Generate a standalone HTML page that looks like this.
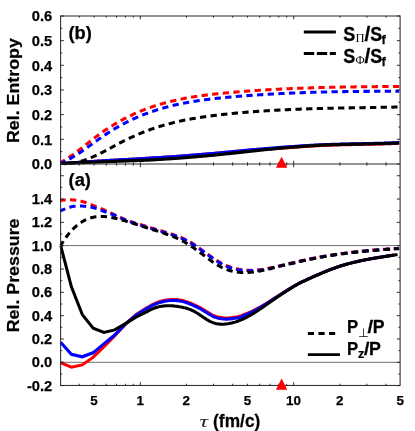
<!DOCTYPE html>
<html><head><meta charset="utf-8"><title>plot</title>
<style>
html,body{margin:0;padding:0;background:#fff;}
body{width:415px;height:431px;overflow:hidden;font-family:"Liberation Sans",sans-serif;}
svg{display:block;will-change:transform;filter:grayscale(0);}
</style></head><body>
<svg width="415" height="431" viewBox="0 0 415 431">
<rect width="415" height="431" fill="#fff"/>
<defs><clipPath id="ct"><rect x="59.4" y="16.0" width="340.7" height="150.14999999999998"/></clipPath><clipPath id="cb"><rect x="59.4" y="163.95" width="340.7" height="223.5"/></clipPath></defs>
<line x1="60.6" x2="400.1" y1="245.6" y2="245.6" stroke="#3c3c3c" stroke-width="0.75"/>
<line x1="60.6" x2="400.1" y1="362.3" y2="362.3" stroke="#3c3c3c" stroke-width="0.75"/>
<g clip-path="url(#ct)">
<path d="M60.50,163.54 L61.63,163.47 L62.77,163.40 L63.90,163.32 L65.03,163.25 L66.16,163.18 L67.30,163.10 L68.43,163.03 L69.56,162.95 L70.69,162.88 L71.83,162.81 L72.96,162.73 L74.09,162.66 L75.23,162.58 L76.36,162.51 L77.49,162.44 L78.62,162.36 L79.76,162.29 L80.89,162.21 L82.02,162.14 L83.16,162.07 L84.29,161.99 L85.42,161.92 L86.55,161.85 L87.69,161.77 L88.82,161.70 L89.95,161.63 L91.08,161.55 L92.22,161.48 L93.35,161.41 L94.48,161.34 L95.62,161.26 L96.75,161.19 L97.88,161.12 L99.01,161.05 L100.15,160.98 L101.28,160.91 L102.41,160.84 L103.55,160.77 L104.68,160.70 L105.81,160.64 L106.94,160.57 L108.08,160.51 L109.21,160.45 L110.34,160.38 L111.47,160.32 L112.61,160.25 L113.74,160.19 L114.87,160.13 L116.01,160.06 L117.14,160.00 L118.27,159.94 L119.40,159.87 L120.54,159.81 L121.67,159.75 L122.80,159.69 L123.94,159.63 L125.07,159.57 L126.20,159.50 L127.33,159.44 L128.47,159.38 L129.60,159.31 L130.73,159.25 L131.86,159.19 L133.00,159.12 L134.13,159.06 L135.26,158.99 L136.40,158.92 L137.53,158.86 L138.66,158.79 L139.79,158.72 L140.93,158.65 L142.06,158.58 L143.19,158.51 L144.33,158.44 L145.46,158.37 L146.59,158.30 L147.72,158.23 L148.86,158.15 L149.99,158.08 L151.12,158.01 L152.25,157.95 L153.39,157.89 L154.52,157.82 L155.65,157.76 L156.79,157.69 L157.92,157.62 L159.05,157.55 L160.18,157.48 L161.32,157.41 L162.45,157.34 L163.58,157.27 L164.72,157.20 L165.85,157.12 L166.98,157.05 L168.11,156.97 L169.25,156.90 L170.38,156.82 L171.51,156.74 L172.64,156.66 L173.78,156.58 L174.91,156.50 L176.04,156.42 L177.18,156.34 L178.31,156.25 L179.44,156.17 L180.57,156.08 L181.71,156.00 L182.84,155.91 L183.97,155.82 L185.11,155.73 L186.24,155.64 L187.37,155.55 L188.50,155.46 L189.64,155.37 L190.77,155.28 L191.90,155.19 L193.03,155.09 L194.17,155.00 L195.30,154.90 L196.43,154.81 L197.57,154.71 L198.70,154.61 L199.83,154.51 L200.96,154.43 L202.10,154.35 L203.23,154.26 L204.36,154.18 L205.50,154.09 L206.63,154.01 L207.76,153.92 L208.89,153.84 L210.03,153.75 L211.16,153.66 L212.29,153.57 L213.42,153.48 L214.56,153.39 L215.69,153.29 L216.82,153.19 L217.96,153.09 L219.09,152.99 L220.22,152.89 L221.35,152.79 L222.49,152.69 L223.62,152.59 L224.75,152.48 L225.89,152.38 L227.02,152.28 L228.15,152.17 L229.28,152.07 L230.42,151.96 L231.55,151.86 L232.68,151.75 L233.81,151.64 L234.95,151.54 L236.08,151.43 L237.21,151.32 L238.35,151.21 L239.48,151.11 L240.61,151.00 L241.74,150.89 L242.88,150.78 L244.01,150.67 L245.14,150.57 L246.28,150.46 L247.41,150.35 L248.54,150.26 L249.67,150.18 L250.81,150.11 L251.94,150.04 L253.07,149.97 L254.20,149.89 L255.34,149.82 L256.47,149.75 L257.60,149.68 L258.74,149.60 L259.87,149.53 L261.00,149.47 L262.13,149.40 L263.27,149.34 L264.40,149.27 L265.53,149.21 L266.67,149.15 L267.80,149.08 L268.93,149.02 L270.06,148.96 L271.20,148.87 L272.33,148.79 L273.46,148.70 L274.59,148.62 L275.73,148.54 L276.86,148.45 L277.99,148.37 L279.13,148.29 L280.26,148.21 L281.39,148.13 L282.52,148.05 L283.66,147.98 L284.79,147.90 L285.92,147.83 L287.06,147.75 L288.19,147.68 L289.32,147.61 L290.45,147.54 L291.59,147.47 L292.72,147.40 L293.85,147.33 L294.98,147.26 L296.12,147.20 L297.25,147.11 L298.38,147.02 L299.52,146.93 L300.65,146.85 L301.78,146.76 L302.91,146.68 L304.05,146.60 L305.18,146.52 L306.31,146.44 L307.45,146.36 L308.58,146.29 L309.71,146.21 L310.84,146.14 L311.98,146.07 L313.11,146.00 L314.24,145.94 L315.37,145.87 L316.51,145.81 L317.64,145.75 L318.77,145.69 L319.91,145.63 L321.04,145.58 L322.17,145.52 L323.30,145.47 L324.44,145.42 L325.57,145.37 L326.70,145.33 L327.84,145.28 L328.97,145.24 L330.10,145.20 L331.23,145.16 L332.37,145.12 L333.50,145.08 L334.63,145.04 L335.76,145.01 L336.90,144.97 L338.03,144.94 L339.16,144.91 L340.30,144.88 L341.43,144.85 L342.56,144.82 L343.69,144.79 L344.83,144.76 L345.96,144.73 L347.09,144.71 L348.23,144.68 L349.36,144.66 L350.49,144.63 L351.62,144.61 L352.76,144.59 L353.89,144.56 L355.02,144.54 L356.15,144.52 L357.29,144.49 L358.42,144.47 L359.55,144.45 L360.69,144.43 L361.82,144.40 L362.95,144.38 L364.08,144.36 L365.22,144.34 L366.35,144.31 L367.48,144.29 L368.62,144.27 L369.75,144.24 L370.88,144.22 L372.01,144.19 L373.15,144.17 L374.28,144.14 L375.41,144.12 L376.54,144.09 L377.68,144.06 L378.81,144.03 L379.94,144.00 L381.08,143.97 L382.21,143.94 L383.34,143.90 L384.47,143.87 L385.61,143.83 L386.74,143.80 L387.87,143.76 L389.01,143.72 L390.14,143.68 L391.27,143.64 L392.40,143.59 L393.54,143.55 L394.67,143.50 L395.80,143.45 L396.93,143.40 L398.07,143.35 L399.20,143.29" fill="none" stroke="#ff0000" stroke-width="3.05" stroke-linejoin="miter"/>
<path d="M60.50,163.54 L61.63,163.47 L62.77,163.40 L63.90,163.32 L65.03,163.25 L66.16,163.18 L67.30,163.10 L68.43,163.03 L69.56,162.95 L70.69,162.88 L71.83,162.81 L72.96,162.73 L74.09,162.66 L75.23,162.58 L76.36,162.51 L77.49,162.44 L78.62,162.36 L79.76,162.29 L80.89,162.21 L82.02,162.14 L83.16,162.07 L84.29,161.99 L85.42,161.92 L86.55,161.85 L87.69,161.77 L88.82,161.70 L89.95,161.63 L91.08,161.55 L92.22,161.48 L93.35,161.41 L94.48,161.34 L95.62,161.26 L96.75,161.19 L97.88,161.12 L99.01,161.05 L100.15,160.98 L101.28,160.91 L102.41,160.84 L103.55,160.77 L104.68,160.70 L105.81,160.64 L106.94,160.57 L108.08,160.51 L109.21,160.45 L110.34,160.38 L111.47,160.32 L112.61,160.25 L113.74,160.19 L114.87,160.13 L116.01,160.06 L117.14,160.00 L118.27,159.94 L119.40,159.87 L120.54,159.81 L121.67,159.75 L122.80,159.69 L123.94,159.63 L125.07,159.57 L126.20,159.50 L127.33,159.44 L128.47,159.38 L129.60,159.31 L130.73,159.25 L131.86,159.19 L133.00,159.12 L134.13,159.06 L135.26,158.99 L136.40,158.92 L137.53,158.86 L138.66,158.79 L139.79,158.72 L140.93,158.65 L142.06,158.58 L143.19,158.51 L144.33,158.44 L145.46,158.37 L146.59,158.30 L147.72,158.23 L148.86,158.15 L149.99,158.08 L151.12,158.01 L152.25,157.95 L153.39,157.89 L154.52,157.82 L155.65,157.76 L156.79,157.69 L157.92,157.62 L159.05,157.55 L160.18,157.48 L161.32,157.41 L162.45,157.34 L163.58,157.27 L164.72,157.20 L165.85,157.12 L166.98,157.05 L168.11,156.97 L169.25,156.90 L170.38,156.82 L171.51,156.74 L172.64,156.66 L173.78,156.58 L174.91,156.50 L176.04,156.42 L177.18,156.34 L178.31,156.25 L179.44,156.17 L180.57,156.08 L181.71,156.00 L182.84,155.91 L183.97,155.82 L185.11,155.73 L186.24,155.64 L187.37,155.55 L188.50,155.46 L189.64,155.37 L190.77,155.28 L191.90,155.19 L193.03,155.09 L194.17,155.00 L195.30,154.90 L196.43,154.81 L197.57,154.71 L198.70,154.61 L199.83,154.51 L200.96,154.43 L202.10,154.34 L203.23,154.25 L204.36,154.16 L205.50,154.07 L206.63,153.98 L207.76,153.89 L208.89,153.80 L210.03,153.71 L211.16,153.61 L212.29,153.52 L213.42,153.42 L214.56,153.33 L215.69,153.22 L216.82,153.12 L217.96,153.02 L219.09,152.91 L220.22,152.81 L221.35,152.70 L222.49,152.59 L223.62,152.49 L224.75,152.38 L225.89,152.27 L227.02,152.16 L228.15,152.05 L229.28,151.94 L230.42,151.83 L231.55,151.72 L232.68,151.61 L233.81,151.50 L234.95,151.39 L236.08,151.28 L237.21,151.17 L238.35,151.05 L239.48,150.94 L240.61,150.83 L241.74,150.72 L242.88,150.60 L244.01,150.49 L245.14,150.38 L246.28,150.26 L247.41,150.15 L248.54,150.04 L249.67,149.94 L250.81,149.84 L251.94,149.73 L253.07,149.63 L254.20,149.53 L255.34,149.42 L256.47,149.32 L257.60,149.22 L258.74,149.12 L259.87,149.02 L261.00,148.92 L262.13,148.82 L263.27,148.73 L264.40,148.64 L265.53,148.54 L266.67,148.45 L267.80,148.36 L268.93,148.26 L270.06,148.17 L271.20,148.08 L272.33,147.99 L273.46,147.90 L274.59,147.81 L275.73,147.72 L276.86,147.64 L277.99,147.55 L279.13,147.46 L280.26,147.38 L281.39,147.30 L282.52,147.21 L283.66,147.13 L284.79,147.05 L285.92,146.97 L287.06,146.89 L288.19,146.81 L289.32,146.74 L290.45,146.66 L291.59,146.58 L292.72,146.51 L293.85,146.44 L294.98,146.37 L296.12,146.30 L297.25,146.21 L298.38,146.13 L299.52,146.04 L300.65,145.96 L301.78,145.88 L302.91,145.80 L304.05,145.72 L305.18,145.65 L306.31,145.57 L307.45,145.50 L308.58,145.43 L309.71,145.36 L310.84,145.29 L311.98,145.23 L313.11,145.16 L314.24,145.10 L315.37,145.04 L316.51,144.98 L317.64,144.92 L318.77,144.87 L319.91,144.81 L321.04,144.76 L322.17,144.71 L323.30,144.66 L324.44,144.62 L325.57,144.57 L326.70,144.53 L327.84,144.49 L328.97,144.45 L330.10,144.41 L331.23,144.38 L332.37,144.34 L333.50,144.31 L334.63,144.27 L335.76,144.24 L336.90,144.21 L338.03,144.18 L339.16,144.15 L340.30,144.13 L341.43,144.10 L342.56,144.07 L343.69,144.04 L344.83,144.01 L345.96,143.98 L347.09,143.96 L348.23,143.93 L349.36,143.91 L350.49,143.88 L351.62,143.86 L352.76,143.84 L353.89,143.81 L355.02,143.79 L356.15,143.77 L357.29,143.74 L358.42,143.72 L359.55,143.70 L360.69,143.68 L361.82,143.65 L362.95,143.63 L364.08,143.61 L365.22,143.59 L366.35,143.56 L367.48,143.54 L368.62,143.52 L369.75,143.49 L370.88,143.47 L372.01,143.44 L373.15,143.42 L374.28,143.39 L375.41,143.37 L376.54,143.34 L377.68,143.31 L378.81,143.28 L379.94,143.25 L381.08,143.22 L382.21,143.19 L383.34,143.15 L384.47,143.12 L385.61,143.08 L386.74,143.05 L387.87,143.01 L389.01,142.97 L390.14,142.93 L391.27,142.89 L392.40,142.84 L393.54,142.80 L394.67,142.75 L395.80,142.70 L396.93,142.65 L398.07,142.60 L399.20,142.54" fill="none" stroke="#0000ff" stroke-width="3.05" stroke-linejoin="miter"/>
<path d="M60.50,163.54 L61.63,163.49 L62.77,163.45 L63.90,163.40 L65.03,163.35 L66.16,163.31 L67.30,163.26 L68.43,163.21 L69.56,163.16 L70.69,163.11 L71.83,163.07 L72.96,163.02 L74.09,162.97 L75.23,162.92 L76.36,162.87 L77.49,162.83 L78.62,162.78 L79.76,162.73 L80.89,162.68 L82.02,162.64 L83.16,162.59 L84.29,162.54 L85.42,162.49 L86.55,162.44 L87.69,162.40 L88.82,162.35 L89.95,162.30 L91.08,162.26 L92.22,162.21 L93.35,162.16 L94.48,162.12 L95.62,162.07 L96.75,162.03 L97.88,161.98 L99.01,161.94 L100.15,161.89 L101.28,161.85 L102.41,161.80 L103.55,161.76 L104.68,161.72 L105.81,161.67 L106.94,161.63 L108.08,161.59 L109.21,161.55 L110.34,161.51 L111.47,161.46 L112.61,161.42 L113.74,161.38 L114.87,161.34 L116.01,161.30 L117.14,161.26 L118.27,161.22 L119.40,161.18 L120.54,161.14 L121.67,161.10 L122.80,161.06 L123.94,161.02 L125.07,160.98 L126.20,160.94 L127.33,160.90 L128.47,160.86 L129.60,160.81 L130.73,160.77 L131.86,160.73 L133.00,160.69 L134.13,160.65 L135.26,160.60 L136.40,160.56 L137.53,160.51 L138.66,160.47 L139.79,160.42 L140.93,160.38 L142.06,160.33 L143.19,160.28 L144.33,160.23 L145.46,160.18 L146.59,160.13 L147.72,160.08 L148.86,160.03 L149.99,159.98 L151.12,159.91 L152.25,159.85 L153.39,159.79 L154.52,159.72 L155.65,159.66 L156.79,159.59 L157.92,159.52 L159.05,159.45 L160.18,159.38 L161.32,159.31 L162.45,159.24 L163.58,159.17 L164.72,159.10 L165.85,159.02 L166.98,158.95 L168.11,158.87 L169.25,158.80 L170.38,158.72 L171.51,158.64 L172.64,158.56 L173.78,158.48 L174.91,158.40 L176.04,158.32 L177.18,158.24 L178.31,158.15 L179.44,158.07 L180.57,157.98 L181.71,157.90 L182.84,157.81 L183.97,157.72 L185.11,157.63 L186.24,157.54 L187.37,157.45 L188.50,157.36 L189.64,157.27 L190.77,157.18 L191.90,157.09 L193.03,156.99 L194.17,156.90 L195.30,156.80 L196.43,156.71 L197.57,156.61 L198.70,156.51 L199.83,156.41 L200.96,156.32 L202.10,156.22 L203.23,156.12 L204.36,156.02 L205.50,155.91 L206.63,155.81 L207.76,155.71 L208.89,155.61 L210.03,155.50 L211.16,155.40 L212.29,155.29 L213.42,155.19 L214.56,155.07 L215.69,154.96 L216.82,154.84 L217.96,154.73 L219.09,154.61 L220.22,154.50 L221.35,154.38 L222.49,154.26 L223.62,154.14 L224.75,154.02 L225.89,153.90 L227.02,153.78 L228.15,153.66 L229.28,153.54 L230.42,153.42 L231.55,153.30 L232.68,153.17 L233.81,153.05 L234.95,152.93 L236.08,152.80 L237.21,152.68 L238.35,152.55 L239.48,152.43 L240.61,152.31 L241.74,152.18 L242.88,152.06 L244.01,151.93 L245.14,151.81 L246.28,151.68 L247.41,151.56 L248.54,151.43 L249.67,151.31 L250.81,151.18 L251.94,151.06 L253.07,150.93 L254.20,150.81 L255.34,150.69 L256.47,150.56 L257.60,150.44 L258.74,150.32 L259.87,150.19 L261.00,150.08 L262.13,149.96 L263.27,149.84 L264.40,149.73 L265.53,149.61 L266.67,149.50 L267.80,149.38 L268.93,149.27 L270.06,149.16 L271.20,149.05 L272.33,148.93 L273.46,148.82 L274.59,148.71 L275.73,148.60 L276.86,148.50 L277.99,148.39 L279.13,148.28 L280.26,148.17 L281.39,148.07 L282.52,147.97 L283.66,147.86 L284.79,147.76 L285.92,147.66 L287.06,147.56 L288.19,147.46 L289.32,147.36 L290.45,147.26 L291.59,147.17 L292.72,147.07 L293.85,146.98 L294.98,146.89 L296.12,146.80 L297.25,146.71 L298.38,146.62 L299.52,146.53 L300.65,146.45 L301.78,146.36 L302.91,146.28 L304.05,146.20 L305.18,146.12 L306.31,146.04 L307.45,145.96 L308.58,145.89 L309.71,145.81 L310.84,145.74 L311.98,145.67 L313.11,145.60 L314.24,145.54 L315.37,145.47 L316.51,145.41 L317.64,145.35 L318.77,145.29 L319.91,145.23 L321.04,145.18 L322.17,145.12 L323.30,145.07 L324.44,145.02 L325.57,144.97 L326.70,144.93 L327.84,144.88 L328.97,144.84 L330.10,144.80 L331.23,144.76 L332.37,144.72 L333.50,144.68 L334.63,144.64 L335.76,144.61 L336.90,144.57 L338.03,144.54 L339.16,144.51 L340.30,144.48 L341.43,144.45 L342.56,144.42 L343.69,144.39 L344.83,144.36 L345.96,144.33 L347.09,144.31 L348.23,144.28 L349.36,144.26 L350.49,144.23 L351.62,144.21 L352.76,144.19 L353.89,144.16 L355.02,144.14 L356.15,144.12 L357.29,144.09 L358.42,144.07 L359.55,144.05 L360.69,144.03 L361.82,144.00 L362.95,143.98 L364.08,143.96 L365.22,143.94 L366.35,143.91 L367.48,143.89 L368.62,143.87 L369.75,143.84 L370.88,143.82 L372.01,143.79 L373.15,143.77 L374.28,143.74 L375.41,143.72 L376.54,143.69 L377.68,143.66 L378.81,143.63 L379.94,143.60 L381.08,143.57 L382.21,143.54 L383.34,143.50 L384.47,143.47 L385.61,143.43 L386.74,143.40 L387.87,143.36 L389.01,143.32 L390.14,143.28 L391.27,143.24 L392.40,143.19 L393.54,143.15 L394.67,143.10 L395.80,143.05 L396.93,143.00 L398.07,142.95 L399.20,142.89" fill="none" stroke="#000000" stroke-width="3.2" stroke-linejoin="miter"/>
<path d="M60.50,162.45 L61.63,161.86 L62.77,161.24 L63.90,160.60 L65.03,159.93 L66.16,159.24 L67.30,158.53 L68.43,157.80 L69.56,157.04 L70.69,156.27 L71.83,155.48 L72.96,154.68 L74.09,153.86 L75.23,153.02 L76.36,152.18 L77.49,151.32 L78.62,150.45 L79.76,149.58 L80.89,148.69 L82.02,147.80 L83.16,146.91 L84.29,146.01 L85.42,145.11 L86.55,144.21 L87.69,143.31 L88.82,142.41 L89.95,141.52 L91.08,140.62 L92.22,139.74 L93.35,138.85 L94.48,137.98 L95.62,137.11 L96.75,136.26 L97.88,135.42 L99.01,134.58 L100.15,133.76 L101.28,132.95 L102.41,132.15 L103.55,131.36 L104.68,130.59 L105.81,129.82 L106.94,129.06 L108.08,128.32 L109.21,127.58 L110.34,126.86 L111.47,126.15 L112.61,125.44 L113.74,124.75 L114.87,124.07 L116.01,123.40 L117.14,122.73 L118.27,122.08 L119.40,121.44 L120.54,120.81 L121.67,120.18 L122.80,119.57 L123.94,118.97 L125.07,118.37 L126.20,117.79 L127.33,117.21 L128.47,116.65 L129.60,116.09 L130.73,115.55 L131.86,115.01 L133.00,114.48 L134.13,113.96 L135.26,113.45 L136.40,112.95 L137.53,112.45 L138.66,111.97 L139.79,111.49 L140.93,111.02 L142.06,110.56 L143.19,110.11 L144.33,109.67 L145.46,109.23 L146.59,108.80 L147.72,108.38 L148.86,107.97 L149.99,107.57 L151.12,107.17 L152.25,106.78 L153.39,106.40 L154.52,106.03 L155.65,105.66 L156.79,105.30 L157.92,104.94 L159.05,104.60 L160.18,104.26 L161.32,103.92 L162.45,103.60 L163.58,103.28 L164.72,102.96 L165.85,102.66 L166.98,102.36 L168.11,102.06 L169.25,101.77 L170.38,101.49 L171.51,101.21 L172.64,100.94 L173.78,100.68 L174.91,100.42 L176.04,100.16 L177.18,99.91 L178.31,99.67 L179.44,99.43 L180.57,99.20 L181.71,98.97 L182.84,98.74 L183.97,98.52 L185.11,98.31 L186.24,98.10 L187.37,97.90 L188.50,97.70 L189.64,97.50 L190.77,97.31 L191.90,97.12 L193.03,96.94 L194.17,96.76 L195.30,96.58 L196.43,96.41 L197.57,96.24 L198.70,96.07 L199.83,95.91 L200.96,95.75 L202.10,95.60 L203.23,95.45 L204.36,95.30 L205.50,95.15 L206.63,95.01 L207.76,94.87 L208.89,94.74 L210.03,94.60 L211.16,94.47 L212.29,94.34 L213.42,94.21 L214.56,94.09 L215.69,93.97 L216.82,93.85 L217.96,93.73 L219.09,93.61 L220.22,93.50 L221.35,93.38 L222.49,93.27 L223.62,93.16 L224.75,93.05 L225.89,92.95 L227.02,92.84 L228.15,92.73 L229.28,92.63 L230.42,92.53 L231.55,92.43 L232.68,92.33 L233.81,92.23 L234.95,92.13 L236.08,92.04 L237.21,91.94 L238.35,91.85 L239.48,91.75 L240.61,91.66 L241.74,91.57 L242.88,91.48 L244.01,91.39 L245.14,91.31 L246.28,91.22 L247.41,91.13 L248.54,91.05 L249.67,90.97 L250.81,90.88 L251.94,90.80 L253.07,90.72 L254.20,90.65 L255.34,90.57 L256.47,90.49 L257.60,90.42 L258.74,90.34 L259.87,90.27 L261.00,90.19 L262.13,90.12 L263.27,90.05 L264.40,89.98 L265.53,89.91 L266.67,89.85 L267.80,89.78 L268.93,89.71 L270.06,89.65 L271.20,89.58 L272.33,89.52 L273.46,89.46 L274.59,89.40 L275.73,89.34 L276.86,89.28 L277.99,89.22 L279.13,89.16 L280.26,89.11 L281.39,89.05 L282.52,88.99 L283.66,88.94 L284.79,88.89 L285.92,88.83 L287.06,88.78 L288.19,88.73 L289.32,88.68 L290.45,88.63 L291.59,88.58 L292.72,88.54 L293.85,88.49 L294.98,88.44 L296.12,88.40 L297.25,88.35 L298.38,88.31 L299.52,88.27 L300.65,88.22 L301.78,88.18 L302.91,88.14 L304.05,88.10 L305.18,88.06 L306.31,88.02 L307.45,87.98 L308.58,87.94 L309.71,87.91 L310.84,87.87 L311.98,87.84 L313.11,87.80 L314.24,87.77 L315.37,87.73 L316.51,87.70 L317.64,87.67 L318.77,87.64 L319.91,87.60 L321.04,87.57 L322.17,87.54 L323.30,87.51 L324.44,87.49 L325.57,87.46 L326.70,87.43 L327.84,87.40 L328.97,87.37 L330.10,87.35 L331.23,87.32 L332.37,87.30 L333.50,87.27 L334.63,87.25 L335.76,87.23 L336.90,87.20 L338.03,87.18 L339.16,87.16 L340.30,87.14 L341.43,87.11 L342.56,87.09 L343.69,87.07 L344.83,87.05 L345.96,87.03 L347.09,87.01 L348.23,87.00 L349.36,86.98 L350.49,86.96 L351.62,86.94 L352.76,86.92 L353.89,86.91 L355.02,86.89 L356.15,86.87 L357.29,86.86 L358.42,86.84 L359.55,86.83 L360.69,86.81 L361.82,86.80 L362.95,86.78 L364.08,86.77 L365.22,86.76 L366.35,86.74 L367.48,86.73 L368.62,86.72 L369.75,86.71 L370.88,86.69 L372.01,86.68 L373.15,86.67 L374.28,86.66 L375.41,86.65 L376.54,86.64 L377.68,86.62 L378.81,86.61 L379.94,86.60 L381.08,86.59 L382.21,86.58 L383.34,86.57 L384.47,86.56 L385.61,86.55 L386.74,86.54 L387.87,86.53 L389.01,86.52 L390.14,86.52 L391.27,86.51 L392.40,86.50 L393.54,86.49 L394.67,86.48 L395.80,86.47 L396.93,86.46 L398.07,86.45 L399.20,86.45" fill="none" stroke="#ff0000" stroke-width="3.05" stroke-linejoin="miter" stroke-dasharray="6.3,4.35" stroke-dashoffset="1.2"/>
<path d="M60.50,163.33 L61.63,162.86 L62.77,162.37 L63.90,161.85 L65.03,161.31 L66.16,160.75 L67.30,160.17 L68.43,159.57 L69.56,158.95 L70.69,158.31 L71.83,157.65 L72.96,156.98 L74.09,156.30 L75.23,155.59 L76.36,154.88 L77.49,154.15 L78.62,153.41 L79.76,152.66 L80.89,151.90 L82.02,151.13 L83.16,150.36 L84.29,149.57 L85.42,148.78 L86.55,147.98 L87.69,147.18 L88.82,146.37 L89.95,145.56 L91.08,144.75 L92.22,143.93 L93.35,143.12 L94.48,142.31 L95.62,141.49 L96.75,140.68 L97.88,139.88 L99.01,139.07 L100.15,138.27 L101.28,137.48 L102.41,136.69 L103.55,135.91 L104.68,135.14 L105.81,134.37 L106.94,133.62 L108.08,132.88 L109.21,132.15 L110.34,131.43 L111.47,130.72 L112.61,130.02 L113.74,129.33 L114.87,128.65 L116.01,127.98 L117.14,127.32 L118.27,126.67 L119.40,126.04 L120.54,125.41 L121.67,124.79 L122.80,124.18 L123.94,123.58 L125.07,122.99 L126.20,122.41 L127.33,121.84 L128.47,121.28 L129.60,120.73 L130.73,120.19 L131.86,119.65 L133.00,119.13 L134.13,118.61 L135.26,118.11 L136.40,117.61 L137.53,117.12 L138.66,116.63 L139.79,116.16 L140.93,115.69 L142.06,115.24 L143.19,114.79 L144.33,114.34 L145.46,113.91 L146.59,113.48 L147.72,113.06 L148.86,112.65 L149.99,112.25 L151.12,111.85 L152.25,111.46 L153.39,111.08 L154.52,110.70 L155.65,110.34 L156.79,109.97 L157.92,109.62 L159.05,109.27 L160.18,108.93 L161.32,108.60 L162.45,108.27 L163.58,107.95 L164.72,107.63 L165.85,107.32 L166.98,107.02 L168.11,106.72 L169.25,106.43 L170.38,106.14 L171.51,105.86 L172.64,105.59 L173.78,105.32 L174.91,105.05 L176.04,104.80 L177.18,104.54 L178.31,104.30 L179.44,104.05 L180.57,103.82 L181.71,103.58 L182.84,103.36 L183.97,103.13 L185.11,102.92 L186.24,102.70 L187.37,102.49 L188.50,102.29 L189.64,102.09 L190.77,101.89 L191.90,101.70 L193.03,101.51 L194.17,101.33 L195.30,101.15 L196.43,100.97 L197.57,100.80 L198.70,100.63 L199.83,100.47 L200.96,100.31 L202.10,100.15 L203.23,99.99 L204.36,99.84 L205.50,99.69 L206.63,99.55 L207.76,99.40 L208.89,99.26 L210.03,99.13 L211.16,98.99 L212.29,98.86 L213.42,98.73 L214.56,98.60 L215.69,98.48 L216.82,98.35 L217.96,98.23 L219.09,98.12 L220.22,98.00 L221.35,97.88 L222.49,97.77 L223.62,97.66 L224.75,97.55 L225.89,97.44 L227.02,97.34 L228.15,97.23 L229.28,97.13 L230.42,97.02 L231.55,96.92 L232.68,96.82 L233.81,96.72 L234.95,96.62 L236.08,96.53 L237.21,96.43 L238.35,96.34 L239.48,96.24 L240.61,96.15 L241.74,96.06 L242.88,95.97 L244.01,95.88 L245.14,95.79 L246.28,95.71 L247.41,95.62 L248.54,95.54 L249.67,95.45 L250.81,95.37 L251.94,95.29 L253.07,95.21 L254.20,95.13 L255.34,95.05 L256.47,94.98 L257.60,94.90 L258.74,94.83 L259.87,94.75 L261.00,94.68 L262.13,94.61 L263.27,94.54 L264.40,94.47 L265.53,94.40 L266.67,94.33 L267.80,94.26 L268.93,94.20 L270.06,94.13 L271.20,94.07 L272.33,94.01 L273.46,93.95 L274.59,93.88 L275.73,93.82 L276.86,93.76 L277.99,93.71 L279.13,93.65 L280.26,93.59 L281.39,93.54 L282.52,93.48 L283.66,93.43 L284.79,93.37 L285.92,93.32 L287.06,93.27 L288.19,93.22 L289.32,93.17 L290.45,93.12 L291.59,93.07 L292.72,93.03 L293.85,92.98 L294.98,92.94 L296.12,92.89 L297.25,92.85 L298.38,92.80 L299.52,92.76 L300.65,92.72 L301.78,92.68 L302.91,92.64 L304.05,92.60 L305.18,92.56 L306.31,92.52 L307.45,92.49 L308.58,92.45 L309.71,92.41 L310.84,92.38 L311.98,92.34 L313.11,92.31 L314.24,92.28 L315.37,92.24 L316.51,92.21 L317.64,92.18 L318.77,92.15 L319.91,92.12 L321.04,92.09 L322.17,92.06 L323.30,92.04 L324.44,92.01 L325.57,91.98 L326.70,91.96 L327.84,91.93 L328.97,91.91 L330.10,91.88 L331.23,91.86 L332.37,91.83 L333.50,91.81 L334.63,91.79 L335.76,91.77 L336.90,91.75 L338.03,91.73 L339.16,91.71 L340.30,91.69 L341.43,91.67 L342.56,91.65 L343.69,91.63 L344.83,91.61 L345.96,91.60 L347.09,91.58 L348.23,91.56 L349.36,91.55 L350.49,91.53 L351.62,91.52 L352.76,91.50 L353.89,91.49 L355.02,91.48 L356.15,91.46 L357.29,91.45 L358.42,91.44 L359.55,91.43 L360.69,91.42 L361.82,91.40 L362.95,91.39 L364.08,91.38 L365.22,91.37 L366.35,91.36 L367.48,91.35 L368.62,91.35 L369.75,91.34 L370.88,91.33 L372.01,91.32 L373.15,91.31 L374.28,91.30 L375.41,91.30 L376.54,91.29 L377.68,91.28 L378.81,91.28 L379.94,91.27 L381.08,91.27 L382.21,91.26 L383.34,91.25 L384.47,91.25 L385.61,91.24 L386.74,91.24 L387.87,91.23 L389.01,91.23 L390.14,91.23 L391.27,91.22 L392.40,91.22 L393.54,91.21 L394.67,91.21 L395.80,91.21 L396.93,91.20 L398.07,91.20 L399.20,91.20" fill="none" stroke="#0000ff" stroke-width="3.05" stroke-linejoin="miter" stroke-dasharray="6.3,4.35" stroke-dashoffset="0.8"/>
<path d="M60.50,163.36 L61.63,163.47 L62.77,163.55 L63.90,163.60 L65.03,163.62 L66.16,163.61 L67.30,163.58 L68.43,163.52 L69.56,163.43 L70.69,163.32 L71.83,163.18 L72.96,163.02 L74.09,162.84 L75.23,162.63 L76.36,162.40 L77.49,162.15 L78.62,161.88 L79.76,161.58 L80.89,161.27 L82.02,160.94 L83.16,160.59 L84.29,160.22 L85.42,159.83 L86.55,159.43 L87.69,159.01 L88.82,158.57 L89.95,158.12 L91.08,157.65 L92.22,157.17 L93.35,156.68 L94.48,156.17 L95.62,155.66 L96.75,155.13 L97.88,154.59 L99.01,154.04 L100.15,153.48 L101.28,152.91 L102.41,152.33 L103.55,151.75 L104.68,151.15 L105.81,150.56 L106.94,149.95 L108.08,149.34 L109.21,148.73 L110.34,148.12 L111.47,147.50 L112.61,146.88 L113.74,146.27 L114.87,145.65 L116.01,145.04 L117.14,144.43 L118.27,143.82 L119.40,143.22 L120.54,142.62 L121.67,142.03 L122.80,141.45 L123.94,140.87 L125.07,140.31 L126.20,139.75 L127.33,139.19 L128.47,138.65 L129.60,138.11 L130.73,137.57 L131.86,137.05 L133.00,136.53 L134.13,136.02 L135.26,135.52 L136.40,135.02 L137.53,134.54 L138.66,134.06 L139.79,133.58 L140.93,133.12 L142.06,132.66 L143.19,132.21 L144.33,131.77 L145.46,131.33 L146.59,130.90 L147.72,130.48 L148.86,130.07 L149.99,129.66 L151.12,129.26 L152.25,128.87 L153.39,128.48 L154.52,128.10 L155.65,127.73 L156.79,127.36 L157.92,127.00 L159.05,126.65 L160.18,126.30 L161.32,125.96 L162.45,125.63 L163.58,125.30 L164.72,124.98 L165.85,124.66 L166.98,124.35 L168.11,124.04 L169.25,123.74 L170.38,123.45 L171.51,123.16 L172.64,122.88 L173.78,122.60 L174.91,122.32 L176.04,122.06 L177.18,121.79 L178.31,121.54 L179.44,121.28 L180.57,121.04 L181.71,120.79 L182.84,120.55 L183.97,120.32 L185.11,120.09 L186.24,119.87 L187.37,119.64 L188.50,119.43 L189.64,119.22 L190.77,119.01 L191.90,118.80 L193.03,118.60 L194.17,118.41 L195.30,118.22 L196.43,118.03 L197.57,117.84 L198.70,117.66 L199.83,117.48 L200.96,117.31 L202.10,117.13 L203.23,116.97 L204.36,116.80 L205.50,116.64 L206.63,116.48 L207.76,116.32 L208.89,116.17 L210.03,116.02 L211.16,115.87 L212.29,115.73 L213.42,115.58 L214.56,115.44 L215.69,115.30 L216.82,115.17 L217.96,115.03 L219.09,114.90 L220.22,114.77 L221.35,114.64 L222.49,114.52 L223.62,114.39 L224.75,114.27 L225.89,114.15 L227.02,114.03 L228.15,113.91 L229.28,113.79 L230.42,113.68 L231.55,113.57 L232.68,113.45 L233.81,113.34 L234.95,113.24 L236.08,113.13 L237.21,113.02 L238.35,112.92 L239.48,112.82 L240.61,112.72 L241.74,112.62 L242.88,112.52 L244.01,112.42 L245.14,112.33 L246.28,112.23 L247.41,112.14 L248.54,112.05 L249.67,111.96 L250.81,111.87 L251.94,111.78 L253.07,111.70 L254.20,111.61 L255.34,111.53 L256.47,111.45 L257.60,111.37 L258.74,111.29 L259.87,111.21 L261.00,111.13 L262.13,111.06 L263.27,110.98 L264.40,110.91 L265.53,110.84 L266.67,110.77 L267.80,110.70 L268.93,110.63 L270.06,110.56 L271.20,110.49 L272.33,110.43 L273.46,110.36 L274.59,110.30 L275.73,110.24 L276.86,110.18 L277.99,110.12 L279.13,110.06 L280.26,110.00 L281.39,109.95 L282.52,109.89 L283.66,109.83 L284.79,109.78 L285.92,109.73 L287.06,109.68 L288.19,109.62 L289.32,109.57 L290.45,109.53 L291.59,109.48 L292.72,109.43 L293.85,109.38 L294.98,109.34 L296.12,109.29 L297.25,109.25 L298.38,109.20 L299.52,109.16 L300.65,109.12 L301.78,109.08 L302.91,109.04 L304.05,109.00 L305.18,108.96 L306.31,108.92 L307.45,108.89 L308.58,108.85 L309.71,108.81 L310.84,108.78 L311.98,108.74 L313.11,108.71 L314.24,108.68 L315.37,108.64 L316.51,108.61 L317.64,108.58 L318.77,108.55 L319.91,108.52 L321.04,108.49 L322.17,108.46 L323.30,108.43 L324.44,108.40 L325.57,108.37 L326.70,108.35 L327.84,108.32 L328.97,108.29 L330.10,108.27 L331.23,108.24 L332.37,108.22 L333.50,108.19 L334.63,108.17 L335.76,108.14 L336.90,108.12 L338.03,108.10 L339.16,108.07 L340.30,108.05 L341.43,108.03 L342.56,108.01 L343.69,107.99 L344.83,107.96 L345.96,107.94 L347.09,107.92 L348.23,107.90 L349.36,107.88 L350.49,107.86 L351.62,107.84 L352.76,107.82 L353.89,107.80 L355.02,107.78 L356.15,107.76 L357.29,107.74 L358.42,107.73 L359.55,107.71 L360.69,107.69 L361.82,107.67 L362.95,107.65 L364.08,107.63 L365.22,107.61 L366.35,107.59 L367.48,107.58 L368.62,107.56 L369.75,107.54 L370.88,107.52 L372.01,107.50 L373.15,107.48 L374.28,107.46 L375.41,107.45 L376.54,107.43 L377.68,107.41 L378.81,107.39 L379.94,107.37 L381.08,107.35 L382.21,107.33 L383.34,107.31 L384.47,107.29 L385.61,107.27 L386.74,107.25 L387.87,107.23 L389.01,107.21 L390.14,107.19 L391.27,107.17 L392.40,107.15 L393.54,107.12 L394.67,107.10 L395.80,107.08 L396.93,107.06 L398.07,107.03 L399.20,107.01" fill="none" stroke="#000000" stroke-width="3.05" stroke-linejoin="miter" stroke-dasharray="6.3,4.35" stroke-dashoffset="0.8"/>
</g>
<g clip-path="url(#cb)">
<path d="M60.60,362.60 L71.40,367.20 L82.20,364.90 L93.00,357.40 L103.80,346.80 L114.60,335.90 L125.40,324.20 L136.20,314.50 L147.00,307.60 L147.99,307.10 L148.99,306.52 L149.98,305.96 L150.97,305.42 L151.96,304.90 L152.96,304.40 L153.95,303.92 L154.94,303.47 L155.93,303.04 L156.93,302.63 L157.92,302.24 L158.91,301.87 L159.90,301.53 L160.90,301.23 L161.89,300.95 L162.88,300.70 L163.87,300.47 L164.87,300.26 L165.86,300.07 L166.85,299.91 L167.85,299.77 L168.84,299.66 L169.83,299.57 L170.82,299.50 L171.82,299.46 L172.81,299.44 L173.80,299.44 L174.79,299.47 L175.79,299.52 L176.78,299.60 L177.77,299.70 L178.76,299.83 L179.76,299.98 L180.75,300.15 L181.74,300.35 L182.73,300.58 L183.73,300.83 L184.72,301.11 L185.71,301.41 L186.71,301.74 L187.70,302.09 L188.69,302.47 L189.68,302.86 L190.68,303.26 L191.67,303.67 L192.66,304.10 L193.65,304.54 L194.65,304.99 L195.64,305.46 L196.63,305.94 L197.62,306.43 L198.62,306.93 L199.61,307.43 L200.60,307.93 L201.59,308.50 L202.59,309.12 L203.58,309.76 L204.57,310.37 L205.56,310.98 L206.56,311.57 L207.55,312.17 L208.54,312.76 L209.54,313.34 L210.53,313.91 L211.52,314.47 L212.51,315.01 L213.51,315.50 L214.50,315.92 L215.49,316.28 L216.48,316.59 L217.48,316.86 L218.47,317.11 L219.46,317.32 L220.45,317.49 L221.45,317.63 L222.44,317.76 L223.43,317.87 L224.42,317.96 L225.42,318.03 L226.41,318.06 L227.40,318.06 L228.40,318.01 L229.39,317.93 L230.38,317.81 L231.37,317.67 L232.37,317.52 L233.36,317.38 L234.35,317.26 L235.34,317.13 L236.34,316.99 L237.33,316.82 L238.32,316.60 L239.31,316.32 L240.31,316.00 L241.30,315.67 L242.29,315.30 L243.28,314.92 L244.28,314.53 L245.27,314.14 L246.26,313.73 L247.26,313.33 L248.25,312.91 L249.24,312.49 L250.23,312.06 L251.23,311.62 L252.22,311.17 L253.21,310.71 L254.20,310.23 L255.20,309.73 L256.19,309.23 L257.18,308.71 L258.17,308.18 L259.17,307.64 L260.16,307.10 L261.15,306.54 L262.14,305.98 L263.14,305.39 L264.13,304.79 L265.12,304.19 L266.12,303.58 L267.11,302.97 L268.10,302.35 L269.09,301.72 L270.09,301.09 L271.08,300.45 L272.07,299.81 L273.06,299.17 L274.06,298.53 L275.05,297.89 L276.04,297.26 L277.03,296.63 L278.03,295.99 L279.02,295.36 L280.01,294.73 L281.00,294.10 L282.00,293.46 L282.99,292.84 L283.98,292.21 L284.97,291.59 L285.97,290.98 L286.96,290.37 L287.95,289.76 L288.95,289.15 L289.94,288.55 L290.93,287.95 L291.92,287.35 L292.92,286.77 L293.91,286.19 L294.90,285.62 L295.89,285.06 L296.89,284.51 L297.88,283.97 L298.87,283.46 L299.86,282.95 L300.86,282.46 L301.85,281.97 L302.84,281.50 L303.83,281.03 L304.83,280.57 L305.82,280.11 L306.81,279.66 L307.81,279.20 L308.80,278.75 L309.79,278.30 L310.78,277.85 L311.78,277.40 L312.77,276.96 L313.76,276.51 L314.75,276.07 L315.75,275.63 L316.74,275.19 L317.73,274.76 L318.72,274.33 L319.72,273.90 L320.71,273.47 L321.70,273.05 L322.69,272.63 L323.69,272.22 L324.68,271.81 L325.67,271.40 L326.67,271.00 L327.66,270.60 L328.65,270.21 L329.64,269.83 L330.64,269.44 L331.63,269.07 L332.62,268.70 L333.61,268.34 L334.61,267.98 L335.60,267.63 L336.59,267.28 L337.58,266.95 L338.58,266.61 L339.57,266.29 L340.56,265.97 L341.55,265.66 L342.55,265.35 L343.54,265.06 L344.53,264.76 L345.53,264.47 L346.52,264.19 L347.51,263.92 L348.50,263.65 L349.50,263.38 L350.49,263.12 L351.48,262.87 L352.47,262.62 L353.47,262.37 L354.46,262.13 L355.45,261.90 L356.44,261.66 L357.44,261.44 L358.43,261.22 L359.42,261.00 L360.41,260.78 L361.41,260.57 L362.40,260.37 L363.39,260.16 L364.38,259.97 L365.38,259.77 L366.37,259.58 L367.36,259.39 L368.36,259.20 L369.35,259.02 L370.34,258.84 L371.33,258.66 L372.33,258.49 L373.32,258.32 L374.31,258.15 L375.30,257.98 L376.30,257.81 L377.29,257.65 L378.28,257.49 L379.27,257.33 L380.27,257.17 L381.26,257.01 L382.25,256.86 L383.24,256.70 L384.24,256.55 L385.23,256.40 L386.22,256.25 L387.22,256.10 L388.21,255.95 L389.20,255.80 L390.19,255.65 L391.19,255.50 L392.18,255.35 L393.17,255.21 L394.16,255.06" fill="none" stroke="#ff0000" stroke-width="3.05" stroke-linejoin="miter"/>
<path d="M60.60,342.30 L71.40,354.30 L82.20,356.80 L93.00,352.80 L103.80,343.80 L114.60,335.00 L125.40,324.10 L136.20,315.00 L147.00,308.30 L147.99,307.83 L148.99,307.27 L149.98,306.73 L150.97,306.21 L151.96,305.71 L152.96,305.24 L153.95,304.78 L154.94,304.35 L155.93,303.94 L156.93,303.55 L157.92,303.19 L158.91,302.85 L159.90,302.53 L160.90,302.23 L161.89,301.95 L162.88,301.70 L163.87,301.47 L164.87,301.26 L165.86,301.08 L166.85,300.92 L167.85,300.78 L168.84,300.67 L169.83,300.58 L170.82,300.51 L171.82,300.47 L172.81,300.45 L173.80,300.46 L174.79,300.49 L175.79,300.54 L176.78,300.62 L177.77,300.72 L178.76,300.85 L179.76,301.00 L180.75,301.18 L181.74,301.38 L182.73,301.61 L183.73,301.86 L184.72,302.14 L185.71,302.44 L186.71,302.77 L187.70,303.13 L188.69,303.51 L189.68,303.90 L190.68,304.30 L191.67,304.71 L192.66,305.14 L193.65,305.58 L194.65,306.03 L195.64,306.50 L196.63,306.99 L197.62,307.48 L198.62,307.98 L199.61,308.48 L200.60,308.98 L201.59,309.55 L202.59,310.18 L203.58,310.81 L204.57,311.43 L205.56,312.03 L206.56,312.63 L207.55,313.23 L208.54,313.82 L209.54,314.41 L210.53,314.98 L211.52,315.54 L212.51,316.08 L213.51,316.57 L214.50,316.99 L215.49,317.35 L216.48,317.66 L217.48,317.93 L218.47,318.18 L219.46,318.39 L220.45,318.56 L221.45,318.71 L222.44,318.84 L223.43,318.95 L224.42,319.04 L225.42,319.11 L226.41,319.14 L227.40,319.14 L228.40,319.10 L229.39,319.01 L230.38,318.90 L231.37,318.76 L232.37,318.62 L233.36,318.48 L234.35,318.35 L235.34,318.23 L236.34,318.09 L237.33,317.92 L238.32,317.70 L239.31,317.42 L240.31,317.09 L241.30,316.72 L242.29,316.32 L243.28,315.90 L244.28,315.48 L245.27,315.04 L246.26,314.61 L247.26,314.16 L248.25,313.71 L249.24,313.26 L250.23,312.79 L251.23,312.31 L252.22,311.83 L253.21,311.33 L254.20,310.81 L255.20,310.28 L256.19,309.74 L257.18,309.18 L258.17,308.62 L259.17,308.04 L260.16,307.46 L261.15,306.87 L262.14,306.28 L263.14,305.68 L264.13,305.07 L265.12,304.46 L266.12,303.85 L267.11,303.23 L268.10,302.60 L269.09,301.97 L270.09,301.32 L271.08,300.68 L272.07,300.03 L273.06,299.38 L274.06,298.74 L275.05,298.09 L276.04,297.45 L277.03,296.81 L278.03,296.17 L279.02,295.53 L280.01,294.89 L281.00,294.25 L282.00,293.61 L282.99,292.97 L283.98,292.34 L284.97,291.71 L285.97,291.09 L286.96,290.47 L287.95,289.85 L288.95,289.24 L289.94,288.63 L290.93,288.02 L291.92,287.42 L292.92,286.82 L293.91,286.23 L294.90,285.66 L295.89,285.09 L296.89,284.53 L297.88,283.99 L298.87,283.47 L299.86,282.95 L300.86,282.46 L301.85,281.97 L302.84,281.50 L303.83,281.03 L304.83,280.57 L305.82,280.11 L306.81,279.66 L307.81,279.20 L308.80,278.75 L309.79,278.30 L310.78,277.85 L311.78,277.40 L312.77,276.96 L313.76,276.51 L314.75,276.07 L315.75,275.63 L316.74,275.19 L317.73,274.76 L318.72,274.33 L319.72,273.90 L320.71,273.47 L321.70,273.05 L322.69,272.63 L323.69,272.22 L324.68,271.81 L325.67,271.40 L326.67,271.00 L327.66,270.60 L328.65,270.21 L329.64,269.83 L330.64,269.44 L331.63,269.07 L332.62,268.70 L333.61,268.34 L334.61,267.98 L335.60,267.63 L336.59,267.28 L337.58,266.95 L338.58,266.61 L339.57,266.29 L340.56,265.97 L341.55,265.66 L342.55,265.35 L343.54,265.06 L344.53,264.76 L345.53,264.47 L346.52,264.19 L347.51,263.92 L348.50,263.65 L349.50,263.38 L350.49,263.12 L351.48,262.87 L352.47,262.62 L353.47,262.37 L354.46,262.13 L355.45,261.90 L356.44,261.66 L357.44,261.44 L358.43,261.22 L359.42,261.00 L360.41,260.78 L361.41,260.57 L362.40,260.37 L363.39,260.16 L364.38,259.97 L365.38,259.77 L366.37,259.58 L367.36,259.39 L368.36,259.20 L369.35,259.02 L370.34,258.84 L371.33,258.66 L372.33,258.49 L373.32,258.32 L374.31,258.15 L375.30,257.98 L376.30,257.81 L377.29,257.65 L378.28,257.49 L379.27,257.33 L380.27,257.17 L381.26,257.01 L382.25,256.86 L383.24,256.70 L384.24,256.55 L385.23,256.40 L386.22,256.25 L387.22,256.10 L388.21,255.95 L389.20,255.80 L390.19,255.65 L391.19,255.50 L392.18,255.35 L393.17,255.21 L394.16,255.06" fill="none" stroke="#0000ff" stroke-width="3.05" stroke-linejoin="miter"/>
<path d="M60.70,245.60 L71.40,286.80 L82.30,314.60 L93.20,328.20 L103.90,332.40 L114.70,329.90 L125.50,323.60 L136.30,316.90 L147.10,311.60 L147.94,311.14 L148.78,310.67 L149.61,310.22 L150.45,309.79 L151.29,309.39 L152.13,309.01 L152.96,308.65 L153.80,308.32 L154.64,308.01 L155.48,307.72 L156.31,307.45 L157.15,307.21 L157.99,306.98 L158.83,306.77 L159.66,306.59 L160.50,306.42 L161.34,306.27 L162.18,306.14 L163.01,306.03 L163.85,305.93 L164.69,305.86 L165.53,305.79 L166.36,305.75 L167.20,305.72 L168.04,305.70 L168.88,305.70 L169.71,305.71 L170.55,305.74 L171.39,305.78 L172.23,305.83 L173.06,305.89 L173.90,305.97 L174.74,306.06 L175.58,306.15 L176.41,306.26 L177.25,306.38 L178.09,306.51 L178.93,306.64 L179.76,306.79 L180.60,306.94 L181.44,307.10 L182.28,307.27 L183.11,307.45 L183.95,307.65 L184.79,307.86 L185.63,308.08 L186.46,308.31 L187.30,308.57 L188.14,308.84 L188.98,309.12 L189.81,309.43 L190.65,309.76 L191.49,310.11 L192.33,310.48 L193.16,310.88 L194.00,311.30 L194.84,311.74 L195.68,312.22 L196.51,312.72 L197.35,313.24 L198.19,313.78 L199.03,314.33 L199.86,314.89 L200.70,315.47 L201.54,316.05 L202.38,316.63 L203.21,317.20 L204.05,317.78 L204.89,318.34 L205.73,318.89 L206.56,319.42 L207.40,319.94 L208.24,320.43 L209.08,320.90 L209.91,321.33 L210.75,321.74 L211.59,322.11 L212.43,322.44 L213.26,322.74 L214.10,323.02 L214.94,323.26 L215.78,323.47 L216.61,323.65 L217.45,323.81 L218.29,323.93 L219.13,324.03 L219.96,324.11 L220.80,324.16 L221.64,324.19 L222.48,324.19 L223.31,324.18 L224.15,324.14 L224.99,324.08 L225.83,324.01 L226.66,323.91 L227.50,323.80 L228.34,323.67 L229.18,323.53 L230.01,323.37 L230.85,323.19 L231.69,323.00 L232.53,322.80 L233.36,322.58 L234.20,322.35 L235.04,322.10 L235.88,321.83 L236.71,321.56 L237.55,321.27 L238.39,320.96 L239.23,320.64 L240.06,320.31 L240.90,319.96 L241.74,319.60 L242.58,319.23 L243.41,318.85 L244.25,318.45 L245.09,318.04 L245.93,317.62 L246.76,317.18 L247.60,316.74 L248.44,316.28 L249.28,315.82 L250.11,315.34 L250.95,314.86 L251.79,314.36 L252.63,313.86 L253.46,313.35 L254.30,312.83 L255.14,312.31 L255.98,311.77 L256.81,311.23 L257.65,310.69 L258.49,310.14 L259.33,309.58 L260.16,309.02 L261.00,308.46 L261.84,307.89 L262.68,307.31 L263.51,306.74 L264.35,306.16 L265.19,305.57 L266.03,304.99 L266.86,304.40 L267.70,303.82 L268.54,303.23 L269.38,302.64 L270.21,302.06 L271.05,301.47 L271.89,300.88 L272.73,300.30 L273.56,299.71 L274.40,299.13 L275.24,298.55 L276.08,297.98 L276.91,297.40 L277.75,296.83 L278.59,296.26 L279.43,295.69 L280.26,295.13 L281.10,294.57 L281.94,294.01 L282.78,293.45 L283.61,292.90 L284.45,292.35 L285.29,291.81 L286.13,291.26 L286.96,290.72 L287.80,290.19 L288.64,289.66 L289.48,289.13 L290.31,288.60 L291.15,288.08 L291.99,287.56 L292.83,287.05 L293.66,286.54 L294.50,286.04 L295.34,285.55 L296.18,285.07 L297.01,284.59 L297.85,284.13 L298.69,283.67 L299.53,283.23 L300.36,282.81 L301.20,282.39 L302.04,281.98 L302.88,281.58 L303.71,281.18 L304.55,280.79 L305.39,280.41 L306.23,280.02 L307.06,279.64 L307.90,279.26 L308.74,278.88 L309.58,278.49 L310.41,278.11 L311.25,277.73 L312.09,277.36 L312.93,276.98 L313.76,276.60 L314.60,276.23 L315.44,275.86 L316.28,275.49 L317.11,275.12 L317.95,274.75 L318.79,274.39 L319.63,274.03 L320.46,273.67 L321.30,273.31 L322.14,272.95 L322.98,272.60 L323.81,272.25 L324.65,271.91 L325.49,271.56 L326.33,271.22 L327.16,270.89 L328.00,270.55 L328.84,270.22 L329.68,269.90 L330.51,269.58 L331.35,269.26 L332.19,268.94 L333.03,268.63 L333.86,268.33 L334.70,268.03 L335.54,267.73 L336.38,267.44 L337.21,267.15 L338.05,266.87 L338.89,266.59 L339.73,266.32 L340.56,266.05 L341.40,265.79 L342.24,265.53 L343.08,265.27 L343.91,265.02 L344.75,264.78 L345.59,264.53 L346.43,264.29 L347.26,264.06 L348.10,263.83 L348.94,263.60 L349.78,263.38 L350.61,263.16 L351.45,262.95 L352.29,262.74 L353.13,262.53 L353.96,262.32 L354.80,262.12 L355.64,261.92 L356.48,261.73 L357.31,261.54 L358.15,261.35 L358.99,261.16 L359.83,260.98 L360.66,260.80 L361.50,260.62 L362.34,260.45 L363.18,260.28 L364.01,260.11 L364.85,259.94 L365.69,259.78 L366.53,259.61 L367.36,259.46 L368.20,259.30 L369.04,259.14 L369.88,258.99 L370.71,258.84 L371.55,258.69 L372.39,258.54 L373.23,258.40 L374.06,258.25 L374.90,258.11 L375.74,257.97 L376.58,257.83 L377.41,257.69 L378.25,257.55 L379.09,257.42 L379.93,257.28 L380.76,257.15 L381.60,257.02 L382.44,256.89 L383.28,256.76 L384.11,256.63 L384.95,256.50 L385.79,256.37 L386.63,256.24 L387.46,256.12 L388.30,255.99 L389.14,255.86 L389.98,255.74 L390.81,255.61 L391.65,255.49 L392.49,255.36 L393.33,255.24 L394.16,255.11 L395.00,254.99 L395.84,254.86 L396.68,254.73 L397.51,254.61" fill="none" stroke="#000000" stroke-width="3.05" stroke-linejoin="miter"/>
<path d="M60.60,200.40 L61.95,200.22 L63.30,200.07 L64.65,199.96 L66.00,199.87 L67.35,199.81 L68.70,199.79 L70.06,199.80 L71.41,199.85 L72.76,199.92 L74.11,200.04 L75.46,200.19 L76.81,200.37 L78.16,200.60 L79.51,200.86 L80.86,201.16 L82.21,201.50 L83.56,201.88 L84.91,202.30 L86.26,202.75 L87.61,203.24 L88.97,203.76 L90.32,204.29 L91.67,204.83 L93.02,205.38 L94.37,205.93 L95.72,206.47 L97.07,207.00 L98.42,207.54 L99.77,208.08 L101.12,208.62 L102.47,209.18 L103.82,209.75 L105.17,210.34 L106.53,210.95 L107.88,211.57 L109.23,212.21 L110.58,212.85 L111.93,213.50 L113.28,214.14 L114.63,214.78 L115.98,215.42 L117.33,216.05 L118.68,216.67 L120.03,217.28 L121.38,217.88 L122.73,218.47 L124.08,219.05 L125.44,219.60 L126.79,220.14 L128.14,220.66 L129.49,221.16 L130.84,221.64 L132.19,222.10 L133.54,222.53 L134.89,222.94 L136.24,223.34 L137.59,223.73 L138.94,224.13 L140.29,224.54 L141.64,224.95 L143.00,225.37 L144.35,225.79 L145.70,226.21 L147.05,226.62 L148.40,227.04 L149.75,227.44 L151.10,227.85 L152.45,228.25 L153.80,228.65 L155.15,229.05 L156.50,229.45 L157.85,229.85 L159.20,230.26 L160.56,230.66 L161.91,231.07 L163.26,231.48 L164.61,231.89 L165.96,232.31 L167.31,232.73 L168.66,233.15 L170.01,233.58 L171.36,234.02 L172.71,234.46 L174.06,234.90 L175.41,235.35 L176.76,235.82 L178.11,236.32 L179.47,236.84 L180.82,237.39 L182.17,237.98 L183.52,238.60 L184.87,239.25 L186.22,239.92 L187.57,240.63 L188.92,241.36 L190.27,242.12 L191.62,242.92 L192.97,243.75 L194.32,244.64 L195.67,245.55 L197.03,246.50 L198.38,247.47 L199.73,248.44 L201.08,249.42 L202.43,250.40 L203.78,251.38 L205.13,252.36 L206.48,253.34 L207.83,254.31 L209.18,255.28 L210.53,256.24 L211.88,257.19 L213.23,258.12 L214.58,259.04 L215.94,259.93 L217.29,260.79 L218.64,261.62 L219.99,262.42 L221.34,263.17 L222.69,263.88 L224.04,264.54 L225.39,265.16 L226.74,265.75 L228.09,266.29 L229.44,266.79 L230.79,267.26 L232.14,267.69 L233.50,268.08 L234.85,268.44 L236.20,268.76 L237.55,269.04 L238.90,269.30 L240.25,269.52 L241.60,269.72 L242.95,269.88 L244.30,270.02 L245.65,270.13 L247.00,270.21 L248.35,270.25 L249.70,270.28 L251.05,270.27 L252.41,270.24 L253.76,270.20 L255.11,270.13 L256.46,270.05 L257.81,269.94 L259.16,269.82 L260.51,269.67 L261.86,269.49 L263.21,269.30 L264.56,269.08 L265.91,268.84 L267.26,268.59 L268.61,268.33 L269.97,268.06 L271.32,267.78 L272.67,267.48 L274.02,267.18 L275.37,266.87 L276.72,266.54 L278.07,266.22 L279.42,265.89 L280.77,265.56 L282.12,265.24 L283.47,264.92 L284.82,264.61 L286.17,264.29 L287.52,263.98 L288.88,263.67 L290.23,263.35 L291.58,263.03 L292.93,262.72 L294.28,262.40 L295.63,262.09 L296.98,261.77 L298.33,261.47 L299.68,261.16 L301.03,260.86 L302.38,260.55 L303.73,260.26 L305.08,259.96 L306.44,259.67 L307.79,259.38 L309.14,259.09 L310.49,258.81 L311.84,258.54 L313.19,258.27 L314.54,258.00 L315.89,257.74 L317.24,257.48 L318.59,257.23 L319.94,256.98 L321.29,256.74 L322.64,256.50 L323.99,256.26 L325.35,256.03 L326.70,255.80 L328.05,255.58 L329.40,255.36 L330.75,255.15 L332.10,254.94 L333.45,254.73 L334.80,254.53 L336.15,254.33 L337.50,254.14 L338.85,253.94 L340.20,253.76 L341.55,253.57 L342.91,253.39 L344.26,253.22 L345.61,253.04 L346.96,252.87 L348.31,252.71 L349.66,252.54 L351.01,252.38 L352.36,252.23 L353.71,252.07 L355.06,251.92 L356.41,251.77 L357.76,251.63 L359.11,251.49 L360.47,251.35 L361.82,251.21 L363.17,251.08 L364.52,250.95 L365.87,250.82 L367.22,250.69 L368.57,250.57 L369.92,250.45 L371.27,250.33 L372.62,250.21 L373.97,250.10 L375.32,249.98 L376.67,249.88 L378.02,249.77 L379.38,249.66 L380.73,249.56 L382.08,249.46 L383.43,249.36 L384.78,249.26 L386.13,249.16 L387.48,249.07 L388.83,248.97 L390.18,248.88 L391.53,248.79 L392.88,248.70 L394.23,248.62 L395.58,248.53 L396.94,248.45" fill="none" stroke="#ff0000" stroke-width="3.05" stroke-linejoin="miter" stroke-dasharray="6.3,4.35" stroke-dashoffset="1.2"/>
<path d="M60.60,210.80 L61.95,210.20 L63.30,209.61 L64.65,209.05 L66.00,208.52 L67.35,208.03 L68.70,207.58 L70.06,207.18 L71.41,206.83 L72.76,206.54 L74.11,206.32 L75.46,206.17 L76.81,206.07 L78.16,206.02 L79.51,206.01 L80.86,206.04 L82.21,206.10 L83.56,206.19 L84.91,206.30 L86.26,206.42 L87.61,206.58 L88.97,206.76 L90.32,206.98 L91.67,207.24 L93.02,207.55 L94.37,207.90 L95.72,208.31 L97.07,208.76 L98.42,209.24 L99.77,209.74 L101.12,210.25 L102.47,210.77 L103.82,211.29 L105.17,211.78 L106.53,212.27 L107.88,212.74 L109.23,213.22 L110.58,213.71 L111.93,214.22 L113.28,214.75 L114.63,215.32 L115.98,215.91 L117.33,216.53 L118.68,217.15 L120.03,217.77 L121.38,218.38 L122.73,218.97 L124.08,219.53 L125.44,220.07 L126.79,220.59 L128.14,221.08 L129.49,221.56 L130.84,222.03 L132.19,222.50 L133.54,222.96 L134.89,223.41 L136.24,223.86 L137.59,224.30 L138.94,224.74 L140.29,225.16 L141.64,225.58 L143.00,225.99 L144.35,226.40 L145.70,226.81 L147.05,227.22 L148.40,227.63 L149.75,228.04 L151.10,228.45 L152.45,228.85 L153.80,229.26 L155.15,229.66 L156.50,230.06 L157.85,230.46 L159.20,230.86 L160.56,231.26 L161.91,231.67 L163.26,232.08 L164.61,232.49 L165.96,232.91 L167.31,233.33 L168.66,233.75 L170.01,234.18 L171.36,234.62 L172.71,235.06 L174.06,235.50 L175.41,235.95 L176.76,236.42 L178.11,236.92 L179.47,237.44 L180.82,237.99 L182.17,238.58 L183.52,239.20 L184.87,239.85 L186.22,240.52 L187.57,241.23 L188.92,241.96 L190.27,242.72 L191.62,243.52 L192.97,244.35 L194.32,245.24 L195.67,246.15 L197.03,247.10 L198.38,248.07 L199.73,249.04 L201.08,250.02 L202.43,251.00 L203.78,251.98 L205.13,252.96 L206.48,253.94 L207.83,254.91 L209.18,255.88 L210.53,256.84 L211.88,257.79 L213.23,258.72 L214.58,259.64 L215.94,260.53 L217.29,261.39 L218.64,262.22 L219.99,263.02 L221.34,263.77 L222.69,264.48 L224.04,265.14 L225.39,265.76 L226.74,266.35 L228.09,266.89 L229.44,267.40 L230.79,267.86 L232.14,268.29 L233.50,268.68 L234.85,269.04 L236.20,269.36 L237.55,269.64 L238.90,269.90 L240.25,270.12 L241.60,270.32 L242.95,270.49 L244.30,270.62 L245.65,270.73 L247.00,270.81 L248.35,270.85 L249.70,270.86 L251.05,270.85 L252.41,270.81 L253.76,270.74 L255.11,270.66 L256.46,270.56 L257.81,270.43 L259.16,270.29 L260.51,270.12 L261.86,269.93 L263.21,269.71 L264.56,269.48 L265.91,269.22 L267.26,268.95 L268.61,268.67 L269.97,268.38 L271.32,268.07 L272.67,267.76 L274.02,267.44 L275.37,267.12 L276.72,266.79 L278.07,266.46 L279.42,266.13 L280.77,265.81 L282.12,265.48 L283.47,265.17 L284.82,264.85 L286.17,264.54 L287.52,264.22 L288.88,263.91 L290.23,263.59 L291.58,263.27 L292.93,262.95 L294.28,262.64 L295.63,262.32 L296.98,262.01 L298.33,261.70 L299.68,261.39 L301.03,261.08 L302.38,260.78 L303.73,260.48 L305.08,260.19 L306.44,259.89 L307.79,259.60 L309.14,259.32 L310.49,259.04 L311.84,258.76 L313.19,258.49 L314.54,258.22 L315.89,257.96 L317.24,257.70 L318.59,257.44 L319.94,257.19 L321.29,256.95 L322.64,256.71 L323.99,256.47 L325.35,256.24 L326.70,256.01 L328.05,255.79 L329.40,255.57 L330.75,255.35 L332.10,255.14 L333.45,254.93 L334.80,254.73 L336.15,254.53 L337.50,254.34 L338.85,254.14 L340.20,253.95 L341.55,253.77 L342.91,253.59 L344.26,253.41 L345.61,253.24 L346.96,253.07 L348.31,252.90 L349.66,252.73 L351.01,252.57 L352.36,252.41 L353.71,252.26 L355.06,252.11 L356.41,251.96 L357.76,251.81 L359.11,251.67 L360.47,251.53 L361.82,251.39 L363.17,251.26 L364.52,251.12 L365.87,250.99 L367.22,250.87 L368.57,250.74 L369.92,250.62 L371.27,250.50 L372.62,250.38 L373.97,250.27 L375.32,250.15 L376.67,250.04 L378.02,249.93 L379.38,249.83 L380.73,249.72 L382.08,249.62 L383.43,249.52 L384.78,249.42 L386.13,249.32 L387.48,249.23 L388.83,249.13 L390.18,249.04 L391.53,248.95 L392.88,248.86 L394.23,248.77 L395.58,248.68 L396.94,248.60" fill="none" stroke="#0000ff" stroke-width="3.05" stroke-linejoin="miter" stroke-dasharray="6.3,4.35" stroke-dashoffset="1.2"/>
<path d="M60.60,245.70 L61.73,243.82 L62.86,242.01 L64.00,240.28 L65.13,238.62 L66.26,237.04 L67.39,235.52 L68.53,234.08 L69.66,232.70 L70.79,231.40 L71.92,230.15 L73.06,228.97 L74.19,227.86 L75.32,226.81 L76.45,225.81 L77.59,224.88 L78.72,224.00 L79.85,223.18 L80.98,222.41 L82.12,221.70 L83.25,221.04 L84.38,220.43 L85.51,219.87 L86.65,219.36 L87.78,218.89 L88.91,218.47 L90.04,218.09 L91.18,217.76 L92.31,217.47 L93.44,217.21 L94.57,217.00 L95.71,216.82 L96.84,216.68 L97.97,216.57 L99.10,216.50 L100.24,216.45 L101.37,216.44 L102.50,216.45 L103.63,216.50 L104.77,216.57 L105.90,216.66 L107.03,216.78 L108.16,216.92 L109.29,217.08 L110.43,217.26 L111.56,217.46 L112.69,217.68 L113.82,217.91 L114.96,218.16 L116.09,218.42 L117.22,218.70 L118.35,218.99 L119.49,219.29 L120.62,219.60 L121.75,219.91 L122.88,220.24 L124.02,220.57 L125.15,220.91 L126.28,221.25 L127.41,221.59 L128.55,221.94 L129.68,222.29 L130.81,222.64 L131.94,223.00 L133.08,223.36 L134.21,223.72 L135.34,224.08 L136.47,224.44 L137.61,224.80 L138.74,225.17 L139.87,225.53 L141.00,225.89 L142.14,226.26 L143.27,226.62 L144.40,226.98 L145.53,227.34 L146.67,227.70 L147.80,228.06 L148.93,228.41 L150.06,228.77 L151.20,229.13 L152.33,229.48 L153.46,229.84 L154.59,230.20 L155.73,230.56 L156.86,230.92 L157.99,231.29 L159.12,231.66 L160.25,232.03 L161.39,232.40 L162.52,232.78 L163.65,233.16 L164.78,233.55 L165.92,233.94 L167.05,234.34 L168.18,234.74 L169.31,235.15 L170.45,235.57 L171.58,236.00 L172.71,236.44 L173.84,236.89 L174.98,237.36 L176.11,237.83 L177.24,238.33 L178.37,238.83 L179.51,239.36 L180.64,239.92 L181.77,240.51 L182.90,241.12 L184.04,241.75 L185.17,242.41 L186.30,243.08 L187.43,243.78 L188.57,244.50 L189.70,245.24 L190.83,245.99 L191.96,246.76 L193.10,247.55 L194.23,248.36 L195.36,249.16 L196.49,249.96 L197.63,250.77 L198.76,251.60 L199.89,252.43 L201.02,253.26 L202.16,254.11 L203.29,254.96 L204.42,255.81 L205.55,256.67 L206.68,257.52 L207.82,258.37 L208.95,259.21 L210.08,260.05 L211.21,260.87 L212.35,261.67 L213.48,262.46 L214.61,263.23 L215.74,263.97 L216.88,264.69 L218.01,265.38 L219.14,266.04 L220.27,266.67 L221.41,267.26 L222.54,267.81 L223.67,268.33 L224.80,268.82 L225.94,269.27 L227.07,269.68 L228.20,270.07 L229.33,270.43 L230.47,270.75 L231.60,271.05 L232.73,271.31 L233.86,271.55 L235.00,271.76 L236.13,271.94 L237.26,272.10 L238.39,272.23 L239.53,272.34 L240.66,272.42 L241.79,272.48 L242.92,272.52 L244.06,272.53 L245.19,272.53 L246.32,272.50 L247.45,272.45 L248.59,272.39 L249.72,272.31 L250.85,272.21 L251.98,272.10 L253.12,271.97 L254.25,271.83 L255.38,271.68 L256.51,271.51 L257.64,271.33 L258.78,271.14 L259.91,270.94 L261.04,270.72 L262.17,270.50 L263.31,270.26 L264.44,270.01 L265.57,269.75 L266.70,269.49 L267.84,269.23 L268.97,268.96 L270.10,268.68 L271.23,268.40 L272.37,268.12 L273.50,267.84 L274.63,267.56 L275.76,267.28 L276.90,266.99 L278.03,266.71 L279.16,266.42 L280.29,266.14 L281.43,265.87 L282.56,265.60 L283.69,265.33 L284.82,265.06 L285.96,264.80 L287.09,264.53 L288.22,264.26 L289.35,263.99 L290.49,263.72 L291.62,263.45 L292.75,263.19 L293.88,262.92 L295.02,262.65 L296.15,262.39 L297.28,262.13 L298.41,261.87 L299.55,261.61 L300.68,261.35 L301.81,261.10 L302.94,260.84 L304.07,260.59 L305.21,260.34 L306.34,260.09 L307.47,259.85 L308.60,259.61 L309.74,259.37 L310.87,259.13 L312.00,258.90 L313.13,258.67 L314.27,258.45 L315.40,258.22 L316.53,258.00 L317.66,257.79 L318.80,257.58 L319.93,257.37 L321.06,257.16 L322.19,256.95 L323.33,256.75 L324.46,256.56 L325.59,256.36 L326.72,256.17 L327.86,255.98 L328.99,255.80 L330.12,255.61 L331.25,255.43 L332.39,255.26 L333.52,255.08 L334.65,254.91 L335.78,254.74 L336.92,254.57 L338.05,254.41 L339.18,254.25 L340.31,254.09 L341.45,253.94 L342.58,253.78 L343.71,253.63 L344.84,253.48 L345.98,253.34 L347.11,253.19 L348.24,253.05 L349.37,252.91 L350.51,252.77 L351.64,252.64 L352.77,252.51 L353.90,252.38 L355.03,252.25 L356.17,252.12 L357.30,252.00 L358.43,251.88 L359.56,251.76 L360.70,251.64 L361.83,251.52 L362.96,251.41 L364.09,251.30 L365.23,251.18 L366.36,251.08 L367.49,250.97 L368.62,250.86 L369.76,250.76 L370.89,250.66 L372.02,250.56 L373.15,250.46 L374.29,250.36 L375.42,250.27 L376.55,250.17 L377.68,250.08 L378.82,249.99 L379.95,249.90 L381.08,249.81 L382.21,249.72 L383.35,249.64 L384.48,249.55 L385.61,249.47 L386.74,249.39 L387.88,249.31 L389.01,249.23 L390.14,249.15 L391.27,249.07 L392.41,249.00 L393.54,248.92 L394.67,248.85 L395.80,248.77 L396.94,248.70 L398.07,248.63 L399.20,248.56" fill="none" stroke="#000000" stroke-width="3.05" stroke-linejoin="miter" stroke-dasharray="6.3,4.35" stroke-dashoffset="1.1"/>
</g>
<g stroke="#2e2e2e" stroke-width="1.05" fill="none">
<rect x="60.6" y="16.0" width="339.5" height="369.45"/>
<line x1="60.6" x2="400.1" y1="163.95" y2="163.95"/>
</g>
<g stroke="#1c1c1c" stroke-width="0.9" fill="none">
<line x1="60.60" x2="63.90" y1="163.95" y2="163.95"/>
<line x1="400.10" x2="396.80" y1="163.95" y2="163.95"/>
<line x1="60.60" x2="62.30" y1="151.62" y2="151.62"/>
<line x1="400.10" x2="398.40" y1="151.62" y2="151.62"/>
<line x1="60.60" x2="63.90" y1="139.29" y2="139.29"/>
<line x1="400.10" x2="396.80" y1="139.29" y2="139.29"/>
<line x1="60.60" x2="62.30" y1="126.96" y2="126.96"/>
<line x1="400.10" x2="398.40" y1="126.96" y2="126.96"/>
<line x1="60.60" x2="63.90" y1="114.63" y2="114.63"/>
<line x1="400.10" x2="396.80" y1="114.63" y2="114.63"/>
<line x1="60.60" x2="62.30" y1="102.30" y2="102.30"/>
<line x1="400.10" x2="398.40" y1="102.30" y2="102.30"/>
<line x1="60.60" x2="63.90" y1="89.97" y2="89.97"/>
<line x1="400.10" x2="396.80" y1="89.97" y2="89.97"/>
<line x1="60.60" x2="62.30" y1="77.64" y2="77.64"/>
<line x1="400.10" x2="398.40" y1="77.64" y2="77.64"/>
<line x1="60.60" x2="63.90" y1="65.31" y2="65.31"/>
<line x1="400.10" x2="396.80" y1="65.31" y2="65.31"/>
<line x1="60.60" x2="62.30" y1="52.98" y2="52.98"/>
<line x1="400.10" x2="398.40" y1="52.98" y2="52.98"/>
<line x1="60.60" x2="63.90" y1="40.65" y2="40.65"/>
<line x1="400.10" x2="396.80" y1="40.65" y2="40.65"/>
<line x1="60.60" x2="62.30" y1="28.32" y2="28.32"/>
<line x1="400.10" x2="398.40" y1="28.32" y2="28.32"/>
<line x1="60.60" x2="63.90" y1="15.99" y2="15.99"/>
<line x1="400.10" x2="396.80" y1="15.99" y2="15.99"/>
<line x1="60.60" x2="63.90" y1="385.62" y2="385.62"/>
<line x1="400.10" x2="396.80" y1="385.62" y2="385.62"/>
<line x1="60.60" x2="62.30" y1="373.96" y2="373.96"/>
<line x1="400.10" x2="398.40" y1="373.96" y2="373.96"/>
<line x1="60.60" x2="63.90" y1="362.30" y2="362.30"/>
<line x1="400.10" x2="396.80" y1="362.30" y2="362.30"/>
<line x1="60.60" x2="62.30" y1="350.64" y2="350.64"/>
<line x1="400.10" x2="398.40" y1="350.64" y2="350.64"/>
<line x1="60.60" x2="63.90" y1="338.98" y2="338.98"/>
<line x1="400.10" x2="396.80" y1="338.98" y2="338.98"/>
<line x1="60.60" x2="62.30" y1="327.32" y2="327.32"/>
<line x1="400.10" x2="398.40" y1="327.32" y2="327.32"/>
<line x1="60.60" x2="63.90" y1="315.66" y2="315.66"/>
<line x1="400.10" x2="396.80" y1="315.66" y2="315.66"/>
<line x1="60.60" x2="62.30" y1="304.00" y2="304.00"/>
<line x1="400.10" x2="398.40" y1="304.00" y2="304.00"/>
<line x1="60.60" x2="63.90" y1="292.34" y2="292.34"/>
<line x1="400.10" x2="396.80" y1="292.34" y2="292.34"/>
<line x1="60.60" x2="62.30" y1="280.68" y2="280.68"/>
<line x1="400.10" x2="398.40" y1="280.68" y2="280.68"/>
<line x1="60.60" x2="63.90" y1="269.02" y2="269.02"/>
<line x1="400.10" x2="396.80" y1="269.02" y2="269.02"/>
<line x1="60.60" x2="62.30" y1="257.36" y2="257.36"/>
<line x1="400.10" x2="398.40" y1="257.36" y2="257.36"/>
<line x1="60.60" x2="63.90" y1="245.70" y2="245.70"/>
<line x1="400.10" x2="396.80" y1="245.70" y2="245.70"/>
<line x1="60.60" x2="62.30" y1="234.04" y2="234.04"/>
<line x1="400.10" x2="398.40" y1="234.04" y2="234.04"/>
<line x1="60.60" x2="63.90" y1="222.38" y2="222.38"/>
<line x1="400.10" x2="396.80" y1="222.38" y2="222.38"/>
<line x1="60.60" x2="62.30" y1="210.72" y2="210.72"/>
<line x1="400.10" x2="398.40" y1="210.72" y2="210.72"/>
<line x1="60.60" x2="63.90" y1="199.06" y2="199.06"/>
<line x1="400.10" x2="396.80" y1="199.06" y2="199.06"/>
<line x1="60.60" x2="62.30" y1="187.40" y2="187.40"/>
<line x1="400.10" x2="398.40" y1="187.40" y2="187.40"/>
<line x1="60.60" x2="63.90" y1="175.74" y2="175.74"/>
<line x1="400.10" x2="396.80" y1="175.74" y2="175.74"/>
<line x1="79.26" x2="79.26" y1="16.00" y2="17.70"/>
<line x1="79.26" x2="79.26" y1="162.25" y2="165.65"/>
<line x1="79.26" x2="79.26" y1="385.45" y2="383.75"/>
<line x1="94.12" x2="94.12" y1="16.00" y2="17.70"/>
<line x1="94.12" x2="94.12" y1="162.25" y2="165.65"/>
<line x1="94.12" x2="94.12" y1="385.45" y2="383.75"/>
<line x1="106.27" x2="106.27" y1="16.00" y2="17.70"/>
<line x1="106.27" x2="106.27" y1="162.25" y2="165.65"/>
<line x1="106.27" x2="106.27" y1="385.45" y2="383.75"/>
<line x1="116.54" x2="116.54" y1="16.00" y2="17.70"/>
<line x1="116.54" x2="116.54" y1="162.25" y2="165.65"/>
<line x1="116.54" x2="116.54" y1="385.45" y2="383.75"/>
<line x1="125.43" x2="125.43" y1="16.00" y2="17.70"/>
<line x1="125.43" x2="125.43" y1="162.25" y2="165.65"/>
<line x1="125.43" x2="125.43" y1="385.45" y2="383.75"/>
<line x1="133.28" x2="133.28" y1="16.00" y2="17.70"/>
<line x1="133.28" x2="133.28" y1="162.25" y2="165.65"/>
<line x1="133.28" x2="133.28" y1="385.45" y2="383.75"/>
<line x1="140.30" x2="140.30" y1="16.00" y2="19.30"/>
<line x1="140.30" x2="140.30" y1="160.65" y2="167.25"/>
<line x1="140.30" x2="140.30" y1="385.45" y2="382.15"/>
<line x1="186.48" x2="186.48" y1="16.00" y2="17.70"/>
<line x1="186.48" x2="186.48" y1="162.25" y2="165.65"/>
<line x1="186.48" x2="186.48" y1="385.45" y2="383.75"/>
<line x1="213.49" x2="213.49" y1="16.00" y2="17.70"/>
<line x1="213.49" x2="213.49" y1="162.25" y2="165.65"/>
<line x1="213.49" x2="213.49" y1="385.45" y2="383.75"/>
<line x1="232.66" x2="232.66" y1="16.00" y2="17.70"/>
<line x1="232.66" x2="232.66" y1="162.25" y2="165.65"/>
<line x1="232.66" x2="232.66" y1="385.45" y2="383.75"/>
<line x1="247.52" x2="247.52" y1="16.00" y2="17.70"/>
<line x1="247.52" x2="247.52" y1="162.25" y2="165.65"/>
<line x1="247.52" x2="247.52" y1="385.45" y2="383.75"/>
<line x1="259.67" x2="259.67" y1="16.00" y2="17.70"/>
<line x1="259.67" x2="259.67" y1="162.25" y2="165.65"/>
<line x1="259.67" x2="259.67" y1="385.45" y2="383.75"/>
<line x1="269.94" x2="269.94" y1="16.00" y2="17.70"/>
<line x1="269.94" x2="269.94" y1="162.25" y2="165.65"/>
<line x1="269.94" x2="269.94" y1="385.45" y2="383.75"/>
<line x1="278.83" x2="278.83" y1="16.00" y2="17.70"/>
<line x1="278.83" x2="278.83" y1="162.25" y2="165.65"/>
<line x1="278.83" x2="278.83" y1="385.45" y2="383.75"/>
<line x1="286.68" x2="286.68" y1="16.00" y2="17.70"/>
<line x1="286.68" x2="286.68" y1="162.25" y2="165.65"/>
<line x1="286.68" x2="286.68" y1="385.45" y2="383.75"/>
<line x1="293.70" x2="293.70" y1="16.00" y2="19.30"/>
<line x1="293.70" x2="293.70" y1="160.65" y2="167.25"/>
<line x1="293.70" x2="293.70" y1="385.45" y2="382.15"/>
<line x1="339.88" x2="339.88" y1="16.00" y2="17.70"/>
<line x1="339.88" x2="339.88" y1="162.25" y2="165.65"/>
<line x1="339.88" x2="339.88" y1="385.45" y2="383.75"/>
<line x1="366.89" x2="366.89" y1="16.00" y2="17.70"/>
<line x1="366.89" x2="366.89" y1="162.25" y2="165.65"/>
<line x1="366.89" x2="366.89" y1="385.45" y2="383.75"/>
<line x1="386.06" x2="386.06" y1="16.00" y2="17.70"/>
<line x1="386.06" x2="386.06" y1="162.25" y2="165.65"/>
<line x1="386.06" x2="386.06" y1="385.45" y2="383.75"/>
</g>
<path d="M281.6,156.7 L287.3,167.8 L275.90000000000003,167.8 Z" fill="#ff0000"/>
<path d="M281.6,378.4 L287.3,389.7 L275.90000000000003,389.7 Z" fill="#ff0000"/>
<line x1="303.8" x2="335.9" y1="32.1" y2="32.1" stroke="#000" stroke-width="2.95"/>
<line x1="303.8" x2="335.9" y1="53.4" y2="53.4" stroke="#000" stroke-width="2.95" stroke-dasharray="10.4,2.6"/>
<line x1="307.85" x2="335.2" y1="333.5" y2="333.5" stroke="#000" stroke-width="2.95" stroke-dasharray="6.15,4.45"/>
<line x1="307.85" x2="339.9" y1="354.6" y2="354.6" stroke="#000" stroke-width="2.95"/>
<text transform="translate(52.20,169.20) scale(1.0,1.0)" font-size="14.7" text-anchor="end" font-family="Liberation Sans, sans-serif" font-weight="bold" stroke="#000" stroke-width="0.25" >0.0</text>
<text transform="translate(52.20,144.54) scale(1.0,1.0)" font-size="14.7" text-anchor="end" font-family="Liberation Sans, sans-serif" font-weight="bold" stroke="#000" stroke-width="0.25" >0.1</text>
<text transform="translate(52.20,119.88) scale(1.0,1.0)" font-size="14.7" text-anchor="end" font-family="Liberation Sans, sans-serif" font-weight="bold" stroke="#000" stroke-width="0.25" >0.2</text>
<text transform="translate(52.20,95.22) scale(1.0,1.0)" font-size="14.7" text-anchor="end" font-family="Liberation Sans, sans-serif" font-weight="bold" stroke="#000" stroke-width="0.25" >0.3</text>
<text transform="translate(52.20,70.56) scale(1.0,1.0)" font-size="14.7" text-anchor="end" font-family="Liberation Sans, sans-serif" font-weight="bold" stroke="#000" stroke-width="0.25" >0.4</text>
<text transform="translate(52.20,45.90) scale(1.0,1.0)" font-size="14.7" text-anchor="end" font-family="Liberation Sans, sans-serif" font-weight="bold" stroke="#000" stroke-width="0.25" >0.5</text>
<text transform="translate(52.20,21.24) scale(1.0,1.0)" font-size="14.7" text-anchor="end" font-family="Liberation Sans, sans-serif" font-weight="bold" stroke="#000" stroke-width="0.25" >0.6</text>
<text transform="translate(52.20,390.52) scale(1.0,1.0)" font-size="14.7" text-anchor="end" font-family="Liberation Sans, sans-serif" font-weight="bold" stroke="#000" stroke-width="0.25" >-0.2</text>
<text transform="translate(52.20,367.20) scale(1.0,1.0)" font-size="14.7" text-anchor="end" font-family="Liberation Sans, sans-serif" font-weight="bold" stroke="#000" stroke-width="0.25" >0.0</text>
<text transform="translate(52.20,343.88) scale(1.0,1.0)" font-size="14.7" text-anchor="end" font-family="Liberation Sans, sans-serif" font-weight="bold" stroke="#000" stroke-width="0.25" >0.2</text>
<text transform="translate(52.20,320.56) scale(1.0,1.0)" font-size="14.7" text-anchor="end" font-family="Liberation Sans, sans-serif" font-weight="bold" stroke="#000" stroke-width="0.25" >0.4</text>
<text transform="translate(52.20,297.24) scale(1.0,1.0)" font-size="14.7" text-anchor="end" font-family="Liberation Sans, sans-serif" font-weight="bold" stroke="#000" stroke-width="0.25" >0.6</text>
<text transform="translate(52.20,273.92) scale(1.0,1.0)" font-size="14.7" text-anchor="end" font-family="Liberation Sans, sans-serif" font-weight="bold" stroke="#000" stroke-width="0.25" >0.8</text>
<text transform="translate(52.20,250.60) scale(1.0,1.0)" font-size="14.7" text-anchor="end" font-family="Liberation Sans, sans-serif" font-weight="bold" stroke="#000" stroke-width="0.25" >1.0</text>
<text transform="translate(52.20,227.28) scale(1.0,1.0)" font-size="14.7" text-anchor="end" font-family="Liberation Sans, sans-serif" font-weight="bold" stroke="#000" stroke-width="0.25" >1.2</text>
<text transform="translate(52.20,203.96) scale(1.0,1.0)" font-size="14.7" text-anchor="end" font-family="Liberation Sans, sans-serif" font-weight="bold" stroke="#000" stroke-width="0.25" >1.4</text>
<text transform="translate(93.97,405.20) scale(1.0,1.0)" font-size="13.4" text-anchor="middle" font-family="Liberation Sans, sans-serif" font-weight="bold" stroke="#000" stroke-width="0.25" >5</text>
<text transform="translate(140.15,405.20) scale(1.0,1.0)" font-size="13.4" text-anchor="middle" font-family="Liberation Sans, sans-serif" font-weight="bold" stroke="#000" stroke-width="0.25" >1</text>
<text transform="translate(186.33,405.20) scale(1.0,1.0)" font-size="13.4" text-anchor="middle" font-family="Liberation Sans, sans-serif" font-weight="bold" stroke="#000" stroke-width="0.25" >2</text>
<text transform="translate(247.37,405.20) scale(1.0,1.0)" font-size="13.4" text-anchor="middle" font-family="Liberation Sans, sans-serif" font-weight="bold" stroke="#000" stroke-width="0.25" >5</text>
<text transform="translate(293.55,405.20) scale(1.0,1.0)" font-size="13.4" text-anchor="middle" font-family="Liberation Sans, sans-serif" font-weight="bold" stroke="#000" stroke-width="0.25" >10</text>
<text transform="translate(339.73,405.20) scale(1.0,1.0)" font-size="13.4" text-anchor="middle" font-family="Liberation Sans, sans-serif" font-weight="bold" stroke="#000" stroke-width="0.25" >2</text>
<text transform="translate(400.32,405.20) scale(1.0,1.0)" font-size="13.4" text-anchor="middle" font-family="Liberation Sans, sans-serif" font-weight="bold" stroke="#000" stroke-width="0.25" >5</text>
<text transform="translate(19.3,90.6) rotate(-90) scale(1,0.94)" font-size="17.8" text-anchor="middle" font-family="Liberation Sans, sans-serif" font-weight="bold" stroke="#000" stroke-width="0.25">Rel. Entropy</text>
<text transform="translate(19.0,275.4) rotate(-90) scale(1,0.94)" font-size="17.8" text-anchor="middle" font-family="Liberation Sans, sans-serif" font-weight="bold" stroke="#000" stroke-width="0.25">Rel. Pressure</text>
<text transform="translate(213.1,427.2) scale(0.975,1)" font-size="17.8" font-family="Liberation Sans, sans-serif" font-weight="bold" stroke="#000" stroke-width="0.25">(fm/c)</text>
<text transform="translate(199.6,427.0) scale(1.42,1)" font-size="16.8" font-family="Liberation Serif, serif" font-style="italic" fill="#222">τ</text>
<text transform="translate(68.50,38.60) scale(1.0,1.0)" font-size="18.3" text-anchor="start" font-family="Liberation Sans, sans-serif" font-weight="bold" stroke="#000" stroke-width="0.25" >(b)</text>
<text transform="translate(68.60,186.30) scale(1.0,1.0)" font-size="18.3" text-anchor="start" font-family="Liberation Sans, sans-serif" font-weight="bold" stroke="#000" stroke-width="0.25" >(a)</text>
<text transform="translate(343.25,40.60) scale(0.97,1.11)" font-size="18.6" font-family="Liberation Sans, sans-serif" font-weight="bold" stroke="#000" stroke-width="0.25">S</text>
<text transform="translate(355.50,42.00) scale(1.0,1.0)" font-size="12.6" font-family="Liberation Serif, serif" fill="#111">Π</text>
<text transform="translate(364.60,40.60) scale(1.12,1.11)" font-size="18.6" font-family="Liberation Sans, sans-serif" font-weight="bold" stroke="#000" stroke-width="0.25">/</text>
<text transform="translate(370.30,40.60) scale(0.96,1.11)" font-size="18.6" font-family="Liberation Sans, sans-serif" font-weight="bold" stroke="#000" stroke-width="0.25">S</text>
<text transform="translate(381.60,43.80) scale(0.95,1.0)" font-size="13.6" font-family="Liberation Sans, sans-serif" font-weight="bold" stroke="#000" stroke-width="0.25">f</text>
<text transform="translate(343.25,62.80) scale(0.97,1.11)" font-size="18.6" font-family="Liberation Sans, sans-serif" font-weight="bold" stroke="#000" stroke-width="0.25">S</text>
<text transform="translate(355.40,64.20) scale(1.0,1.0)" font-size="12.6" font-family="Liberation Serif, serif" fill="#111">Φ</text>
<text transform="translate(364.60,62.80) scale(1.12,1.11)" font-size="18.6" font-family="Liberation Sans, sans-serif" font-weight="bold" stroke="#000" stroke-width="0.25">/</text>
<text transform="translate(370.30,62.80) scale(0.96,1.11)" font-size="18.6" font-family="Liberation Sans, sans-serif" font-weight="bold" stroke="#000" stroke-width="0.25">S</text>
<text transform="translate(381.60,66.00) scale(0.95,1.0)" font-size="13.6" font-family="Liberation Sans, sans-serif" font-weight="bold" stroke="#000" stroke-width="0.25">f</text>
<text transform="translate(347.00,333.40) scale(0.9,1.0)" font-size="18.6" font-family="Liberation Sans, sans-serif" font-weight="bold" stroke="#000" stroke-width="0.25">P</text>
<text transform="translate(358.20,337.40) scale(1.05,1.0)" font-size="11.8" font-family="Liberation Serif, serif" fill="#111">⊥</text>
<text transform="translate(367.60,333.40) scale(1.08,1.0)" font-size="18.6" font-family="Liberation Sans, sans-serif" font-weight="bold" stroke="#000" stroke-width="0.25">/</text>
<text transform="translate(372.80,333.40) scale(0.95,1.0)" font-size="18.6" font-family="Liberation Sans, sans-serif" font-weight="bold" stroke="#000" stroke-width="0.25">P</text>
<text transform="translate(347.00,354.50) scale(0.9,1.0)" font-size="18.6" font-family="Liberation Sans, sans-serif" font-weight="bold" stroke="#000" stroke-width="0.25">P</text>
<text transform="translate(357.90,358.30) scale(0.93,0.97)" font-size="13.6" font-family="Liberation Sans, sans-serif" font-weight="bold" stroke="#000" stroke-width="0.25">z</text>
<text transform="translate(364.10,354.50) scale(1.05,1.0)" font-size="18.6" font-family="Liberation Sans, sans-serif" font-weight="bold" stroke="#000" stroke-width="0.25">/</text>
<text transform="translate(368.90,354.50) scale(0.96,1.0)" font-size="18.6" font-family="Liberation Sans, sans-serif" font-weight="bold" stroke="#000" stroke-width="0.25">P</text>
</svg>
</body></html>
